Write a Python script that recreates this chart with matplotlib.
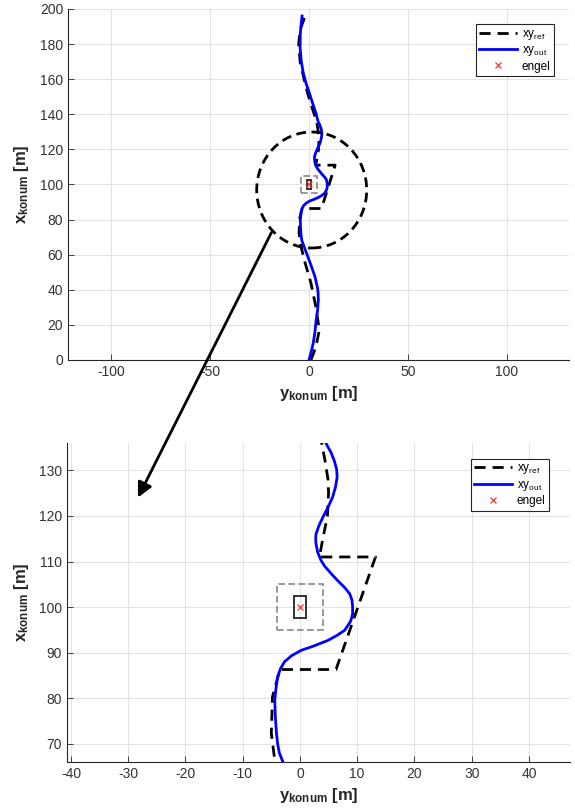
import matplotlib
matplotlib.use("Agg")
import matplotlib.pyplot as plt
from matplotlib.patches import Rectangle, Ellipse, FancyArrowPatch

# longitudinal (x_konum) and lateral (y_konum) positions
ref_x = [0, 7.6, 17, 30, 43.7, 57, 66.4, 72.3, 80.3, 86.3, 86.3, 111, 111, 115, 120, 125,
         128, 132, 136, 142.5, 152, 160, 170, 180, 188, 197.5]
ref_y = [1, 3.5, 5.2, 3.5, 1, -2.4, -4.4, -5.0, -4.8, -3.5, 6.3, 13.2, 3.4, 4.0, 4.8, 5.0,
         4.9, 4.4, 3.8, 1.9, -0.7, -2.5, -4.5, -5.2, -4.5, -1.5]

out_x = [0, 5, 10, 16, 22.8, 28, 34, 38, 41, 47.5, 54, 61, 66.1, 68, 70, 72.3, 75.9, 79.6,
         82, 84.7, 86.5, 88, 89.3, 90.5, 91.5, 92.7, 93.8, 94.9, 96, 96.8, 97.5, 98.5, 100,
         101.5, 102.9, 104.3, 105.8, 107, 108, 109, 110.2, 112, 113.9, 115, 116, 117.8,
         119.7, 121.9, 124.1, 126.3, 128.5, 130.3, 132.1, 134, 135.8, 141, 146, 152, 157.6,
         164, 171, 178, 186, 191, 196]
out_y = [0, 1.2, 2.2, 3.0, 3.6, 4.3, 4.7, 4.6, 4.3, 3.0, 1.0, -1.3, -3.0, -3.6, -3.9, -4.1,
         -4.3, -4.4, -4.2, -3.9, -3.4, -2.7, -1.5, 0.2, 2.5, 4.9, 6.5, 7.8, 8.4, 8.8, 9.0,
         9.2, 9.2, 9.1, 8.7, 7.8, 6.6, 5.7, 5.0, 4.3, 3.7, 3.1, 2.8, 2.75, 2.8, 3.3,
         4.0, 4.9, 5.7, 6.2, 6.5, 6.4, 6.0, 5.4, 4.6, 3.4, 1.9, 0.2, -1.5,
         -3.0, -4.0, -4.5, -4.4, -4.0, -3.5]

engel_x = [100]
engel_y = [0]
# obstacle body and its safety zone: (y_min, x_min, width, height)
engel_box = (-1, 97.5, 2, 5)
safe_box = (-4, 95, 8, 10)

plt.rcParams['font.family'] = ['Liberation Sans', 'DejaVu Sans']
plt.rcParams['mathtext.default'] = 'regular'
plt.rcParams['axes.unicode_minus'] = False

fig = plt.figure(figsize=(5.75, 8.08), dpi=100)
ax1 = fig.add_axes([0.1183, 0.5545, 0.8713, 0.4344])
ax2 = fig.add_axes([0.1165, 0.0569, 0.875, 0.3948])


def draw_panel(ax, xlim, ylim, xticks, yticks, leg_anchor):
    ax.plot(ref_y, ref_x, color='black', lw=2, ls=(0, (4, 2.5)), label=r'xy$_{ref}$', zorder=3)
    ax.plot(out_y, out_x, color='#0000ff', lw=2, label=r'xy$_{out}$', zorder=4,
            solid_joinstyle='round')
    ax.add_patch(Rectangle(safe_box[:2], safe_box[2], safe_box[3], fill=False,
                           ec='#888888', lw=1.2, ls=(0, (4, 2))))
    ax.add_patch(Rectangle(engel_box[:2], engel_box[2], engel_box[3], fill=False,
                           ec='#333333', lw=1.4))
    ax.plot(engel_y, engel_x, 'x', color='#ff3030', ms=5, mew=0.9, ls='none', label='engel')
    ax.set_xlim(xlim)
    ax.set_ylim(ylim)
    ax.set_xticks(xticks)
    ax.set_yticks(yticks)
    ax.grid(True, color='#e3e3e3', lw=0.8)
    ax.set_axisbelow(True)
    for s in ['top', 'right']:
        ax.spines[s].set_visible(False)
    for s in ['left', 'bottom']:
        ax.spines[s].set_color('#262626')
        ax.spines[s].set_linewidth(0.8)
    ax.tick_params(direction='in', length=4, width=0.6, colors='#262626',
                   labelsize=10, labelcolor='#333333')
    ax.set_xlabel(r'y$_{konum}$ [m]', fontsize=12, fontweight='bold', color='#262626', labelpad=4)
    ax.set_ylabel(r'x$_{konum}$ [m]', fontsize=12, fontweight='bold', color='#262626', labelpad=6)
    leg = ax.legend(loc='upper right', bbox_to_anchor=leg_anchor, fontsize=8.5,
                    fancybox=False, framealpha=1, edgecolor='#262626',
                    handlelength=3.2, borderpad=0.3, labelspacing=0.2, handletextpad=0.4)
    leg.get_frame().set_linewidth(0.8)


draw_panel(ax1, (-121.7, 131.3), (0, 200), [-100, -50, 0, 50, 100],
           list(range(0, 201, 20)), (0.982, 0.973))
draw_panel(ax2, (-40.7, 47.2), (66, 136), list(range(-40, 41, 10)),
           list(range(70, 131, 10)), (0.970, 0.969))

# zoom circle and arrow drawn on the figure
fig.patches.append(Ellipse((311.7 / 575, 1 - 190 / 808), 110 / 575, 116 / 808,
                           transform=fig.transFigure, fill=False, ec='black',
                           lw=2, ls=(0, (3.5, 2)), zorder=10))
fig.patches.append(FancyArrowPatch((272.7 / 575, 1 - 230 / 808), (136.7 / 575, 1 - 500 / 808),
                                   transform=fig.transFigure, arrowstyle='-|>',
                                   mutation_scale=22, color='black', lw=2, zorder=10))

fig.savefig('out.png', dpi=100)
